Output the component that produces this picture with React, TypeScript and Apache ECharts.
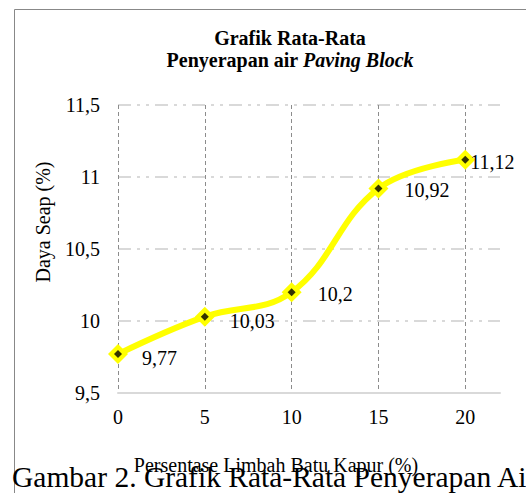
import React, { useEffect, useRef } from "react";
import * as echarts from "echarts";

const xValues = [0, 5, 10, 15, 20];
const yValues = [9.77, 10.03, 10.2, 10.92, 11.12];
const labelDistance = [14, 15, 16, 16, -5];
const labelDy = [4, 4, 2, 1, 2];
const titleLine1 = "Grafik Rata-Rata";
const titleLine2a = "Penyerapan air ";
const titleLine2b = "Paving Block";
const xName = "Persentase Limbah Batu Kapur (%)";
const yName = "Daya Seap (%)";
const caption = "Gambar 2. Grafik Rata-Rata Penyerapan Air";

const FONT = "serif";
const fmt = (v: number) => String(v).replace(".", ",");

export default function App() {
  const ref = useRef<HTMLDivElement>(null);
  useEffect(() => {
    if (!ref.current) return;
    const chart = echarts.init(ref.current, undefined, { renderer: "svg" });
    const lineData = xValues.map((x, i) => ({
      value: [x, yValues[i]],
      label: {
        show: true,
        position: "right",
        distance: labelDistance[i],
        offset: [0, labelDy[i]],
        formatter: () => fmt(yValues[i]),
        color: "#000",
        fontFamily: FONT,
        fontSize: 20,
      },
    }));
    chart.setOption({
      animation: false,
      backgroundColor: "#fff",
      grid: { left: 118, right: 26, top: 105, bottom: 100, containLabel: false },
      xAxis: {
        type: "value",
        min: 0,
        max: 22,
        interval: 5,
        axisLine: { show: true, lineStyle: { color: "#d9d9d9", width: 2 } },
        axisTick: { show: false },
        axisLabel: {
          showMaxLabel: false,
          margin: 14,
          color: "#000",
          fontFamily: FONT,
          fontSize: 20,
        },
        splitLine: {
          show: true,
          showMaxLine: false,
          lineStyle: { color: "#8c8c8c", width: 1, type: [4, 3] },
        },
        z: 3,
      },
      yAxis: {
        type: "value",
        min: 9.5,
        max: 11.5,
        interval: 0.5,
        axisLine: { show: false },
        axisTick: { show: false },
        axisLabel: {
          margin: 18,
          color: "#000",
          fontFamily: FONT,
          fontSize: 20,
          formatter: (v: number) => fmt(v),
        },
        splitLine: {
          show: true,
          showMinLine: false,
          lineStyle: { color: "#d9d9d9", width: 2, type: [13, 6, 3, 6, 3, 6] },
        },
      },
      graphic: [
        {
          type: "rect",
          shape: { x: 14.5, y: 9.5, width: 700, height: 700 },
          style: { fill: "none", stroke: "#888", lineWidth: 1 },
          silent: true,
          z: -10,
        },
        {
          type: "text",
          x: 290,
          y: 38,
          style: {
            text: titleLine1,
            fontFamily: FONT,
            fontSize: 20,
            fontWeight: "bold",
            fill: "#000",
            align: "center",
            verticalAlign: "middle",
          },
        },
        {
          type: "text",
          x: 290,
          y: 60,
          style: {
            text: `{b|${titleLine2a}}{bi|${titleLine2b}}`,
            fontFamily: FONT,
            fontSize: 20,
            fontWeight: "bold",
            fill: "#000",
            align: "center",
            verticalAlign: "middle",
            rich: {
              b: { fontFamily: FONT, fontSize: 20, fontWeight: "bold", fill: "#000" },
              bi: { fontFamily: FONT, fontSize: 20, fontWeight: "bold", fontStyle: "italic", fill: "#000" },
            },
          },
        },
        {
          type: "text",
          x: 43,
          y: 222,
          rotation: Math.PI / 2,
          style: {
            text: yName,
            fontFamily: FONT,
            fontSize: 20,
            fill: "#000",
            align: "center",
            verticalAlign: "middle",
          },
        },
        {
          type: "text",
          x: 276,
          y: 465,
          style: {
            text: xName,
            fontFamily: FONT,
            fontSize: 20,
            fill: "#000",
            align: "center",
            verticalAlign: "middle",
          },
        },
        {
          type: "text",
          x: 12,
          y: 492,
          style: {
            text: caption,
            fontFamily: FONT,
            fontSize: 29.5,
            fill: "#000",
            align: "left",
            verticalAlign: "bottom",
          },
        },
      ],
      series: [
        {
          type: "line",
          data: lineData,
          smooth: 0.4,
          symbol: "diamond",
          symbolSize: 20,
          lineStyle: { color: "#ffff00", width: 6 },
          itemStyle: { color: "#ffff00" },
          z: 5,
        },
        {
          type: "scatter",
          data: xValues.map((x, i) => [x, yValues[i]]),
          symbol: "diamond",
          symbolSize: 8,
          itemStyle: { color: "#000" },
          z: 6,
          silent: true,
        },
      ],
    });
    return () => chart.dispose();
  }, []);
  return (
    <div
      ref={ref}
      style={{ position: "absolute", left: 0, top: 0, width: 526, height: 493 }}
    />
  );
}
